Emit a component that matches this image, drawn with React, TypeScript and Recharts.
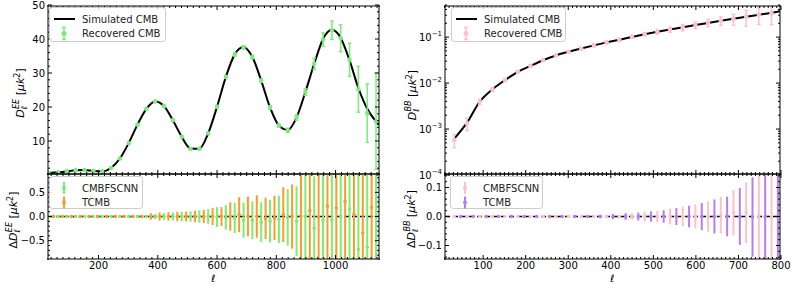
import React from 'react';
import { ComposedChart, Scatter, Line, XAxis, YAxis, ErrorBar, ReferenceLine } from 'recharts';

const W = 793;
const H = 284;
const FONT = 'DejaVu Sans';

const GREEN = '#78ee78';
const ORANGE = '#ff9a22';
const PINK = '#ffc0cb';
const PURPLE = '#b87cf2';

// ---- EE spectrum (left top)
const eeEll = [30, 60, 90, 120, 150, 180, 210, 240, 270, 300, 330, 360, 390, 420, 450, 480, 510, 540, 570, 600, 630, 660, 690, 720, 750, 780, 810, 840, 870, 900, 930, 960, 990, 1020, 1050, 1080, 1110, 1140];
const eeRecovered = [0.3, 0.5, 0.8, 1.1, 1.2, 0.9, 0.8, 1.8, 4.6, 9.2, 14.7, 19.4, 21.6, 20.2, 16.0, 11.1, 7.5, 7.5, 12.1, 20.0, 28.9, 35.6, 37.7, 34.8, 27.8, 19.8, 14.4, 13.0, 16.8, 24.4, 32.8, 40.0, 42.8, 40.4, 34.0, 25.2, 18.1, 15.7];
const eeRecoveredErr = [0.1, 0.1, 0.1, 0.1, 0.1, 0.1, 0.1, 0.15, 0.2, 0.25, 0.3, 0.3, 0.3, 0.3, 0.3, 0.3, 0.3, 0.3, 0.35, 0.4, 0.4, 0.5, 0.5, 0.5, 0.5, 0.5, 0.5, 0.6, 0.8, 1.0, 1.7, 2.0, 2.7, 4.0, 4.9, 6.8, 8.7, 14.3];
const eeSimEll = [30, 60, 90, 120, 150, 180, 210, 240, 270, 300, 330, 360, 390, 420, 450, 480, 510, 540, 570, 600, 630, 660, 690, 720, 750, 780, 810, 840, 870, 900, 930, 960, 990, 1020, 1050, 1080, 1110, 1140, 1150];
const eeSimulated = [0.3, 0.5, 0.8, 1.1, 1.2, 0.9, 0.8, 1.8, 4.6, 9.2, 14.7, 19.4, 21.6, 20.2, 16.0, 11.1, 7.6, 7.5, 12.1, 20.0, 28.9, 35.6, 37.8, 34.8, 27.8, 19.8, 14.4, 13.1, 16.8, 24.4, 32.8, 40.2, 42.9, 40.5, 33.8, 25.6, 19.4, 15.6, 14.6];

// ---- EE residuals (left bottom)
const eeCnnRes = [0, 0, 0, 0, 0, 0, 0, 0, 0, 0, 0, 0, 0, 0, 0, 0, 0, 0, 0, -0.01, -0.02, -0.03, -0.08, -0.08, -0.12, -0.1, -0.06, -0.02, -0.1, 0.0, -0.25, -0.08, -0.08, -0.01, 0.16, -0.7, -0.65, 0.0];
const eeCnnResErr = [0.01, 0.01, 0.01, 0.01, 0.01, 0.01, 0.01, 0.012, 0.015, 0.02, 0.025, 0.035, 0.056, 0.07, 0.085, 0.1, 0.11, 0.13, 0.155, 0.21, 0.26, 0.32, 0.37, 0.4, 0.42, 0.45, 0.5, 0.6, 0.74, 1.0, 1.1, 1.2, 1.3, 1.4, 1.5, 1.6, 1.8, 2.0];
const eeTcmbEll = [45, 75, 105, 135, 165, 195, 225, 255, 285, 315, 345, 375, 405, 435, 465, 495, 525, 555, 585, 615, 645, 675, 705, 735, 765, 795, 825, 855, 885, 915, 945, 975, 1005, 1035, 1065, 1095, 1125];
const eeTcmbRes = [0, 0, 0, 0, 0, 0, 0, 0, 0, 0, 0, 0, 0, 0, 0, 0, 0, 0, 0, 0, 0, 0.04, 0.0, 0.0, -0.04, -0.03, 0.04, 0.0, 0.01, 0.12, -0.01, 0.22, 0.18, 0.32, 0.05, -0.35, 0.19];
const eeTcmbResErr = [0.012, 0.012, 0.012, 0.012, 0.012, 0.012, 0.012, 0.012, 0.015, 0.025, 0.035, 0.07, 0.085, 0.09, 0.1, 0.105, 0.12, 0.14, 0.18, 0.2, 0.3, 0.37, 0.42, 0.45, 0.44, 0.47, 0.58, 0.68, 1.2, 1.3, 1.4, 1.5, 1.6, 1.7, 1.8, 1.9, 2.0];

// ---- BB spectrum (right top)
const bbEll = [30, 60, 90, 120, 150, 180, 210, 240, 270, 300, 330, 360, 390, 420, 450, 480, 510, 540, 570, 600, 630, 660, 690, 720, 750, 780];
const bbRecovered = [5.6e-4, 1.3e-3, 3.9e-3, 7.3e-3, 1.17e-2, 1.78e-2, 2.4e-2, 3.2e-2, 4.08e-2, 4.9e-2, 5.8e-2, 6.8e-2, 7.9e-2, 9.0e-2, 0.105, 0.12, 0.135, 0.152, 0.169, 0.19, 0.214, 0.237, 0.257, 0.29, 0.326, 0.345];
const bbRecoveredErr = [1.8e-4, 4e-4, 5e-4, 7e-4, 8e-4, 1e-3, 1.3e-3, 1.7e-3, 2.2e-3, 2.8e-3, 3.5e-3, 4.5e-3, 5.5e-3, 7e-3, 8e-3, 0.01, 0.015, 0.02, 0.027, 0.032, 0.038, 0.05, 0.07, 0.11, 0.13, 0.15];
const bbSimEll = [30, 60, 90, 120, 150, 180, 210, 240, 270, 300, 330, 360, 390, 420, 450, 480, 510, 540, 570, 600, 630, 660, 690, 720, 750, 780, 800];
const bbSimulated = [6.0e-4, 1.35e-3, 3.9e-3, 7.3e-3, 1.17e-2, 1.78e-2, 2.4e-2, 3.2e-2, 4.08e-2, 4.9e-2, 5.8e-2, 6.8e-2, 7.9e-2, 9.0e-2, 0.104, 0.119, 0.135, 0.152, 0.17, 0.19, 0.212, 0.236, 0.262, 0.29, 0.32, 0.355, 0.385];

// ---- BB residuals (right bottom)
const bbCnnRes = [0, 0, 0, 0, 0, 0, 0, 0, 0, 0, 0, 0, 0, 0, 0, 0, 0, 0, 0, 0, 0, 0.005, 0.013, 0.013, 0.003, -0.004];
const bbCnnResErr = [0.002, 0.002, 0.002, 0.002, 0.002, 0.002, 0.002, 0.002, 0.002, 0.002, 0.002, 0.002, 0.004, 0.007, 0.011, 0.016, 0.02, 0.028, 0.034, 0.042, 0.054, 0.065, 0.08, 0.107, 0.15, 0.2];
const bbTcmbEll = [45, 75, 105, 135, 165, 195, 225, 255, 285, 315, 345, 375, 405, 435, 465, 495, 525, 555, 585, 615, 645, 675, 705, 735, 765, 795];
const bbTcmbRes = [0, 0, 0, 0, 0, 0, 0, 0, 0, 0, 0, 0, 0, 0, 0, 0, 0, 0, 0, 0, 0, 0, 0, -0.002, 0, 0];
const bbTcmbResErr = [0.002, 0.002, 0.002, 0.002, 0.002, 0.002, 0.002, 0.002, 0.002, 0.002, 0.002, 0.006, 0.009, 0.012, 0.014, 0.018, 0.022, 0.03, 0.038, 0.048, 0.06, 0.07, 0.1, 0.14, 0.2, 0.25];

const pts = (ls: number[], vs: number[], es?: number[]) =>
  ls.map((l, i) => ({ l, v: vs[i], e: es ? es[i] : 0 }));

const steps = (a: number, b: number, s: number) => {
  const out: number[] = [];
  for (let k = 0; a + k * s <= b + 1e-9; k++) out.push(+(a + k * s).toFixed(6));
  return out;
};

const logMinor = () => {
  const out: number[] = [];
  [1e-4, 1e-3, 1e-2, 1e-1].forEach((d) => {
    for (let m = 2; m <= 9; m++) if (m * d <= 0.5) out.push(+(m * d).toPrecision(3));
  });
  return out;
};

type Box = { l: number; r: number; t: number; b: number };
const TL: Box = { l: 48, r: 379, t: 6, b: 174 };
const BL: Box = { l: 48, r: 379, t: 174, b: 259 };
const TR: Box = { l: 445, r: 780, t: 6, b: 174 };
const BR: Box = { l: 445, r: 780, t: 174, b: 259 };

const frame = { stroke: '#000', strokeWidth: 1 };
const minus = (v: number) => v.toFixed(1).replace('-', '\u2212');

const isIn = (list: number[], v: number) =>
  list.some((m) => Math.abs(m - v) <= 1e-6 * Math.max(Math.abs(m), 1e-9));

type Side = 'bottom' | 'top' | 'left' | 'right';

// one tick: inward line (long for major) and optional label
const makeTick = (side: Side, box: Box, major: number[], label?: (v: number) => React.ReactNode) => (p: any) => {
  const v = p.payload.value;
  const big = isIn(major, v);
  const len = big ? 4 : 2;
  const horiz = side === 'bottom' || side === 'top';
  const c = horiz ? (p.payload.coordinate ?? p.x) : (p.payload.coordinate ?? p.y);
  if (c == null || isNaN(c)) return <g />;
  let ln;
  if (side === 'bottom') ln = <line x1={c} x2={c} y1={box.b} y2={box.b - len} stroke="#000" />;
  else if (side === 'top') ln = <line x1={c} x2={c} y1={box.t} y2={box.t + len} stroke="#000" />;
  else if (side === 'left') ln = <line x1={box.l} x2={box.l + len} y1={c} y2={c} stroke="#000" />;
  else ln = <line x1={box.r} x2={box.r - len} y1={c} y2={c} stroke="#000" />;
  let txt = null;
  if (big && label) {
    if (side === 'bottom')
      txt = <text x={c} y={box.b + 10} textAnchor="middle" fontSize={10} fontFamily={FONT} fill="#000">{label(v)}</text>;
    else if (side === 'left')
      txt = <text x={box.l - 3} y={c} dy="0.36em" textAnchor="end" fontSize={10} fontFamily={FONT} fill="#000">{label(v)}</text>;
  }
  return <g>{ln}{txt}</g>;
};

const logLabel = (v: number) => {
  const exp = Math.round(Math.log10(v));
  return (
    <>
      10<tspan dy={-5} fontSize={7}>{'\u2212' + Math.abs(exp)}</tspan>
    </>
  );
};

function Panel(props: {
  box: Box;
  xDomain: [number, number];
  xMajor: number[];
  xMinor: number[];
  yDomain: [number, number];
  yMajor: number[];
  yMinor: number[];
  logY?: boolean;
  xLabel?: (v: number) => React.ReactNode;
  yLabel: (v: number) => React.ReactNode;
  children: React.ReactNode;
}) {
  const { box, xDomain, xMajor, xMinor, yDomain, yMajor, yMinor, logY, xLabel, yLabel } = props;
  const scale = logY ? 'log' : 'linear';
  const xt = [...xMajor, ...xMinor].sort((a, b) => a - b);
  const yt = [...yMajor, ...yMinor].sort((a, b) => a - b);
  const pw = box.r - box.l;
  const ph = box.b - box.t;
  const frameMargin = { left: box.l - 1, right: W - box.r - 1, top: box.t - 1, bottom: H - box.b - 1 };
  return (
    <>
      {/* data layer, clipped to the plot box */}
      <div style={{ position: 'absolute', left: box.l, top: box.t, width: pw, height: ph, overflow: 'hidden' }}>
        <div style={{ position: 'absolute', left: -box.l, top: -box.t }}>
          <ComposedChart width={W} height={H} margin={{ left: box.l, right: W - box.r, top: box.t, bottom: H - box.b }}>
            <XAxis hide type="number" scale="linear" dataKey="l" domain={xDomain} allowDataOverflow />
            <YAxis hide type="number" dataKey="v" scale={scale} domain={yDomain} allowDataOverflow />
            {props.children}
          </ComposedChart>
        </div>
      </div>
      {/* y frame and ticks */}
      <div style={{ position: 'absolute', left: 0, top: 0, pointerEvents: 'none' }}>
        <ComposedChart width={W} height={H} margin={frameMargin}>
          <YAxis type="number" yAxisId="l" orientation="left" scale={scale} domain={yDomain} ticks={yt} interval={0} allowDataOverflow
            width={1} tickLine={false} axisLine={frame} tick={makeTick('left', box, yMajor, yLabel)} />
          <YAxis type="number" yAxisId="r" orientation="right" scale={scale} domain={yDomain} ticks={yt} interval={0} allowDataOverflow
            width={1} tickLine={false} axisLine={frame} tick={makeTick('right', box, yMajor)} />
        </ComposedChart>
      </div>
      {/* x frame and ticks (vertical layout keeps x numeric) */}
      <div style={{ position: 'absolute', left: 0, top: 0, pointerEvents: 'none' }}>
        <ComposedChart layout="vertical" width={W} height={H} margin={frameMargin}>
          <XAxis type="number" scale="linear" xAxisId="b" orientation="bottom" domain={xDomain} ticks={xt} interval={0}
            allowDataOverflow height={1} tickLine={false} axisLine={frame} tick={makeTick('bottom', box, xMajor, xLabel)} />
          <XAxis type="number" scale="linear" xAxisId="t" orientation="top" domain={xDomain} ticks={xt} interval={0}
            allowDataOverflow height={1} tickLine={false} axisLine={frame} tick={makeTick('top', box, xMajor)} />
        </ComposedChart>
      </div>
    </>
  );
}

const dot = (color: string, r: number) => (p: any) =>
  p.cx == null ? <g /> : <circle cx={p.cx} cy={p.cy} r={r} fill={color} />;

function Legend(props: { x: number; y: number; w: number; h: number; items: { kind: 'line' | 'err' | 'res'; color: string; label: string }[] }) {
  const { x, y, w, h, items } = props;
  return (
    <g>
      <rect x={x + 0.5} y={y + 0.5} width={w} height={h} rx={3} fill="#fff" fillOpacity={0.85} stroke="#cccccc" />
      {items.map((it, i) => {
        const cy = y + 12 + i * 14.5;
        const sx = x + 15;
        return (
          <g key={i}>
            {it.kind === 'line' && <line x1={x + 5} x2={x + 26} y1={cy} y2={cy} stroke={it.color} strokeWidth={2} />}
            {it.kind === 'err' && (
              <g>
                <line x1={sx} x2={sx} y1={cy - 6} y2={cy + 6} stroke={it.color} strokeWidth={1.5} />
                <line x1={sx - 2} x2={sx + 2} y1={cy - 6} y2={cy - 6} stroke={it.color} strokeWidth={1.5} />
                <line x1={sx - 2} x2={sx + 2} y1={cy + 6} y2={cy + 6} stroke={it.color} strokeWidth={1.5} />
                <circle cx={sx} cy={cy} r={2.5} fill={it.color} />
              </g>
            )}
            {it.kind === 'res' && (
              <g>
                <line x1={sx} x2={sx} y1={cy - 6} y2={cy + 6} stroke={it.color} strokeWidth={2} />
                <circle cx={sx} cy={cy} r={2} fill={it.color} />
              </g>
            )}
            <text x={x + 33} y={cy} dominantBaseline="central" fontSize={10} fontFamily={FONT} fill="#222">{it.label}</text>
          </g>
        );
      })}
    </g>
  );
}

function YTitle(props: { x: number; y: number; delta?: boolean; sup: string }) {
  const { x, y, delta, sup } = props;
  return (
    <text x={x} y={y} transform={`rotate(-90 ${x} ${y})`} textAnchor="middle" fontSize={11} fontFamily={FONT} fill="#000">
      {delta ? '\u0394' : ''}
      <tspan fontStyle="italic">D</tspan>
      <tspan dy={3} fontSize={8} fontStyle="italic">{'\u2113'}</tspan>
      <tspan dx={-3} dy={-8} fontSize={8} fontStyle="italic">{sup}</tspan>
      <tspan dy={5}>{' ['}</tspan>
      <tspan fontStyle="italic">{'\u03bck'}</tspan>
      <tspan dy={-4} fontSize={8}>2</tspan>
      <tspan dy={4}>]</tspan>
    </text>
  );
}

export default function App() {
  const eePts = pts(eeEll, eeRecovered, eeRecoveredErr);
  const eeLine = pts(eeSimEll, eeSimulated);
  const eeCnn = pts(eeEll, eeCnnRes, eeCnnResErr);
  const eeTcmb = pts(eeTcmbEll, eeTcmbRes, eeTcmbResErr);
  const bbPts = pts(bbEll, bbRecovered, bbRecoveredErr);
  const bbLine = pts(bbSimEll, bbSimulated);
  const bbCnn = pts(bbEll, bbCnnRes, bbCnnResErr);
  const bbTcmb = pts(bbTcmbEll, bbTcmbRes, bbTcmbResErr);

  const leftX: [number, number] = [26, 1150];
  const rightX: [number, number] = [8, 800];
  const leftMajor = [200, 400, 600, 800, 1000];
  const leftMinor = steps(40, 1140, 20).filter((v) => !isIn(leftMajor, v));
  const rightMajor = [100, 200, 300, 400, 500, 600, 700, 800];
  const rightMinor = steps(10, 790, 10).filter((v) => !isIn(rightMajor, v));
  const intLabel = (v: number) => String(v);

  return (
    <div style={{ position: 'absolute', left: 0, top: 0, width: W, height: H, background: '#fff', fontFamily: FONT }}>
      <Panel box={TL} xDomain={leftX} xMajor={leftMajor} xMinor={leftMinor} yDomain={[0, 50]}
        yMajor={[10, 20, 30, 40, 50]} yMinor={steps(2, 48, 2).filter((v) => v % 10 !== 0)} yLabel={intLabel}>
        <Line data={eeLine} dataKey="v" type="monotone" stroke="#000" strokeWidth={2} dot={false} isAnimationActive={false} />
        <Scatter data={eePts} dataKey="v" shape={dot(GREEN, 2.2)} isAnimationActive={false}>
          <ErrorBar dataKey="e" direction="y" width={1.8} strokeWidth={1.5} stroke={GREEN} />
        </Scatter>
      </Panel>

      <Panel box={BL} xDomain={leftX} xMajor={leftMajor} xMinor={leftMinor} yDomain={[-0.9, 0.9]}
        yMajor={[-0.5, 0, 0.5]} yMinor={[-0.8, -0.7, -0.6, -0.4, -0.3, -0.2, -0.1, 0.1, 0.2, 0.3, 0.4, 0.6, 0.7, 0.8]}
        yLabel={minus} xLabel={intLabel}>
        <ReferenceLine y={0} stroke="#000" strokeWidth={1.5} strokeDasharray="5 3" />
        <Scatter data={eeCnn} dataKey="v" shape={dot(GREEN, 1.8)} isAnimationActive={false}>
          <ErrorBar dataKey="e" direction="y" width={0} strokeWidth={2} stroke={GREEN} />
        </Scatter>
        <Scatter data={eeTcmb} dataKey="v" shape={dot(ORANGE, 1.8)} isAnimationActive={false}>
          <ErrorBar dataKey="e" direction="y" width={0} strokeWidth={2} stroke={ORANGE} />
        </Scatter>
      </Panel>

      <Panel box={TR} xDomain={rightX} xMajor={rightMajor} xMinor={rightMinor} yDomain={[1e-4, 0.5]}
        yMajor={[1e-4, 1e-3, 1e-2, 1e-1]} yMinor={logMinor()} logY yLabel={logLabel}>
        <Line data={bbLine} dataKey="v" type="monotone" stroke="#000" strokeWidth={2} dot={false} isAnimationActive={false} />
        <Scatter data={bbPts} dataKey="v" shape={dot(PINK, 2.3)} isAnimationActive={false}>
          <ErrorBar dataKey="e" direction="y" width={1.8} strokeWidth={1.5} stroke={PINK} />
        </Scatter>
      </Panel>

      <Panel box={BR} xDomain={rightX} xMajor={rightMajor} xMinor={rightMinor} yDomain={[-0.15, 0.15]}
        yMajor={[-0.1, 0, 0.1]} yMinor={[-0.14, -0.12, -0.08, -0.06, -0.04, -0.02, 0.02, 0.04, 0.06, 0.08, 0.12, 0.14]}
        yLabel={minus} xLabel={intLabel}>
        <ReferenceLine y={0} stroke="#000" strokeWidth={1.5} strokeDasharray="5 3" />
        <Scatter data={bbCnn} dataKey="v" shape={dot(PINK, 1.8)} isAnimationActive={false}>
          <ErrorBar dataKey="e" direction="y" width={0} strokeWidth={2} stroke={PINK} />
        </Scatter>
        <Scatter data={bbTcmb} dataKey="v" shape={dot(PURPLE, 1.8)} isAnimationActive={false}>
          <ErrorBar dataKey="e" direction="y" width={0} strokeWidth={2} stroke={PURPLE} />
        </Scatter>
      </Panel>

      <svg width={W} height={H} style={{ position: 'absolute', left: 0, top: 0, pointerEvents: 'none' }}>
        <Legend x={49} y={7} w={116} h={34} items={[
          { kind: 'line', color: '#000', label: 'Simulated CMB' },
          { kind: 'err', color: GREEN, label: 'Recovered CMB' },
        ]} />
        <Legend x={49} y={176} w={93} h={32} items={[
          { kind: 'res', color: GREEN, label: 'CMBFSCNN' },
          { kind: 'res', color: ORANGE, label: 'TCMB' },
        ]} />
        <Legend x={451} y={7} w={114} h={34} items={[
          { kind: 'line', color: '#000', label: 'Simulated CMB' },
          { kind: 'err', color: PINK, label: 'Recovered CMB' },
        ]} />
        <Legend x={450} y={176} w={92} h={32} items={[
          { kind: 'res', color: PINK, label: 'CMBFSCNN' },
          { kind: 'res', color: PURPLE, label: 'TCMB' },
        ]} />
        <YTitle x={24} y={93} sup="EE" />
        <YTitle x={17} y={220} sup="EE" delta />
        <YTitle x={416} y={95} sup="BB" />
        <YTitle x={415} y={219} sup="BB" delta />
        <text x={213} y={282} textAnchor="middle" fontSize={10} fontStyle="italic" fontFamily={FONT}>{'\u2113'}</text>
        <text x={612} y={282} textAnchor="middle" fontSize={10} fontStyle="italic" fontFamily={FONT}>{'\u2113'}</text>
      </svg>
    </div>
  );
}
